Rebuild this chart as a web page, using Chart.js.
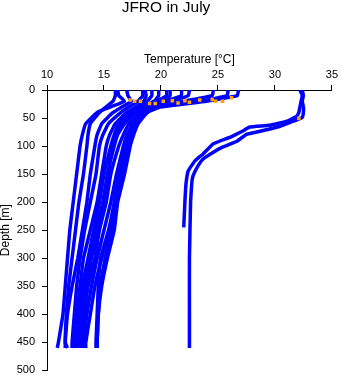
<!DOCTYPE html>
<html>
<head>
<meta charset="utf-8">
<title>JFRO in July</title>
<script src="https://cdn.jsdelivr.net/npm/chart.js@4.4.1/dist/chart.umd.min.js"></script>
<style>
    html, body { margin: 0; padding: 0; background: #ffffff; }
    #wrap { width: 341px; height: 384px; }
</style>
</head>
<body>
<div id="wrap"><canvas id="profileChart" width="341" height="384"></canvas></div>
<script>
// ============================================================================
// Data
// ============================================================================
const xTicks = [10, 15, 20, 25, 30, 35];
const yTicks = [0, 50, 100, 150, 200, 250, 300, 350, 400, 450, 500];

// depth levels [m] shared by the cold casts
const coldDepths = [0, 10, 20, 30, 40, 60, 80, 100, 150, 200, 250, 300, 350, 400, 450, 460];

// temperature [°C] of each cold cast at coldDepths
const castA = [16.2, 16.3, 16.8, 15.6, 14.4, 13.4, 13.1, 12.9, 12.6, 12.3, 12.0, 11.8, 11.6, 11.4, 11.0, 10.9];
const castB = [17.0, 17.1, 17.4, 16.6, 15.8, 14.8, 14.4, 14.2, 13.8, 13.5, 13.1, 12.7, 12.2, 11.8, 11.6, 11.6];
const castC = [18.4, 18.4, 18.0, 17.2, 16.5, 15.4, 14.9, 14.6, 14.3, 13.8, 13.3, 12.9, 12.6, 12.4, 12.2, 12.2];
const castD = [18.6, 18.7, 18.5, 17.8, 17.0, 16.0, 15.5, 15.2, 14.8, 14.4, 13.8, 13.2, 12.9, 12.6, 12.4, 12.3];
const castE = [19.2, 19.2, 18.8, 18.0, 17.4, 16.3, 15.9, 15.6, 15.0, 14.6, 14.1, 13.6, 13.1, 12.8, 12.6, 12.6];
const castF = [20.5, 20.5, 19.6, 18.6, 17.8, 16.8, 16.2, 15.9, 15.3, 14.9, 14.4, 13.9, 13.4, 13.1, 12.8, 12.7];
const castG = [20.8, 20.8, 20.0, 19.0, 18.2, 17.2, 16.7, 16.3, 15.6, 15.2, 14.6, 14.2, 13.6, 13.3, 13.1, 13.0];
const castH = [21.8, 21.8, 20.4, 19.2, 18.6, 17.6, 17.0, 16.7, 16.1, 15.6, 15.0, 14.4, 13.9, 13.5, 13.2, 13.2];
const castI = [22.5, 22.4, 21.0, 19.6, 18.8, 17.8, 17.3, 17.0, 16.4, 16.0, 15.5, 14.8, 14.2, 13.8, 13.4, 13.4];
const castJ = [24.6, 24.5, 22.0, 19.2, 18.4, 17.5, 17.1, 16.8, 16.3, 15.9, 15.4, 14.7, 14.5, 14.4, 14.3, 14.3];
const castK = [25.9, 25.8, 23.5, 19.6, 18.6, 17.8, 17.4, 17.1, 16.6, 16.1, 15.7, 15.1, 14.7, 14.5, 14.4, 14.4];
const castL = [26.8, 26.7, 24.0, 20.0, 18.8, 18.0, 17.6, 17.3, 16.8, 16.2, 15.9, 15.3, 14.8, 14.5, 14.4, 14.4];
const castM = [16.0, 16.0, 15.8, 15.2, 14.6, 13.8, 13.6, 13.5, 13.2, 12.8, 12.5, 12.2, 11.9, 11.7, 11.6, 11.8];
const castN = [19.8, 19.8, 19.4, 18.4, 17.6, 16.5, 16.0, 15.7, 15.4, 15.0, 14.2, 13.8, 13.3, 13.0, 13.0, 13.0];
const coldCasts = [castA, castB, castC, castD, castE, castF, castG, castH, castI, castJ, castK, castL, castM, castN];

// the two warm casts
const warmDeepDepths = [0, 10, 20, 30, 40, 49, 58, 65, 75, 79, 91, 102, 111, 123, 137, 154, 167, 200, 300, 400, 460];
const warmDeepTemps = [32.4, 32.5, 32.4, 32.5, 32.5, 32.4, 31.3, 30.4, 28.4, 27.5, 26.7, 25.4, 24.6, 23.7, 23.2, 22.8, 22.7, 22.6, 22.5, 22.5, 22.5];
const warmShortDepths = [0, 10, 20, 30, 40, 47, 56, 63, 66, 74, 84, 96, 114, 126, 144, 167, 200, 245];
const warmShortTemps = [32.2, 32.4, 32.3, 32.2, 32.1, 31.9, 31.0, 29.5, 27.8, 27.1, 26.1, 24.6, 23.7, 23.0, 22.4, 22.2, 22.1, 22.0];

// orange marks near the thermocline
const flagTemps = [17.3, 17.7, 18.2, 19.0, 19.5, 20.2, 21.0, 21.5, 22.1, 22.5, 23.4, 24.5, 24.8, 25.4, 26.2, 32.1];
const flagDepths = [18, 20, 20, 24, 24, 20, 19, 23, 19, 22, 18, 17, 20, 20, 14, 51];

// ============================================================================
// Build datasets
// ============================================================================
const BLUE = '#0000ff';
const ORANGE = '#ffa500';

function toPoints(temps, depths) {
    return temps.map((t, i) => ({ x: t, y: depths[i] }));
}

function castDataset(points) {
    return {
        data: points,
        showLine: true,
        borderColor: BLUE,
        backgroundColor: BLUE,
        borderWidth: 3.5,
        pointRadius: 0,
        tension: 0.1,
        borderJoinStyle: 'round'
    };
}

const datasets = [];
datasets.push({
    data: toPoints(flagTemps, flagDepths),
    showLine: false,
    pointStyle: 'rect',
    pointRadius: 2.5,
    borderWidth: 0,
    backgroundColor: ORANGE,
    borderColor: ORANGE
});
coldCasts.forEach(c => datasets.push(castDataset(toPoints(c, coldDepths))));
datasets.push(castDataset(toPoints(warmDeepTemps, warmDeepDepths)));
datasets.push(castDataset(toPoints(warmShortTemps, warmShortDepths)));

// ============================================================================
// Chart
// ============================================================================
const FONT = "'Liberation Sans', Arial, Helvetica, sans-serif";

new Chart(document.getElementById('profileChart').getContext('2d'), {
    type: 'scatter',
    data: { datasets: datasets },
    options: {
        responsive: false,
        animation: false,
        layout: { padding: { top: 0, right: 9, bottom: 9, left: 0 } },
        plugins: {
            legend: { display: false },
            tooltip: { enabled: false },
            title: {
                display: true,
                text: 'JFRO in July',
                color: '#000000',
                font: { family: FONT, size: 15.5, weight: 'normal', lineHeight: 1 },
                padding: { top: 0, bottom: 0 }
            }
        },
        scales: {
            x: {
                type: 'linear',
                position: 'top',
                min: 10,
                max: 35,
                afterBuildTicks: scale => { scale.ticks = xTicks.map(v => ({ value: v })); },
                afterFit: scale => { scale.height = 74.5; },
                grid: { drawOnChartArea: false, drawTicks: true, tickLength: 5, color: '#000000' },
                border: { display: true, color: '#000000', width: 1 },
                ticks: { color: '#000000', padding: 3, maxRotation: 0, font: { family: FONT, size: 11 } },
                title: {
                    display: true,
                    text: 'Temperature [°C]',
                    color: '#000000',
                    font: { family: FONT, size: 12, lineHeight: 1 },
                    padding: { top: 38.3, bottom: 0 }
                }
            },
            y: {
                type: 'linear',
                position: 'left',
                reverse: true,
                min: 0,
                max: 500,
                afterBuildTicks: scale => { scale.ticks = yTicks.map(v => ({ value: v })); },
                afterFit: scale => { scale.width = 47; },
                grid: { drawOnChartArea: false, drawTicks: true, tickLength: 5, color: '#000000' },
                border: { display: true, color: '#000000', width: 1 },
                ticks: { color: '#000000', padding: 7, font: { family: FONT, size: 11 } },
                title: {
                    display: true,
                    text: 'Depth [m]',
                    color: '#000000',
                    font: { family: FONT, size: 12, lineHeight: 1 },
                    padding: { top: 0, bottom: 0 }
                }
            }
        }
    }
});
</script>
</body>
</html>
